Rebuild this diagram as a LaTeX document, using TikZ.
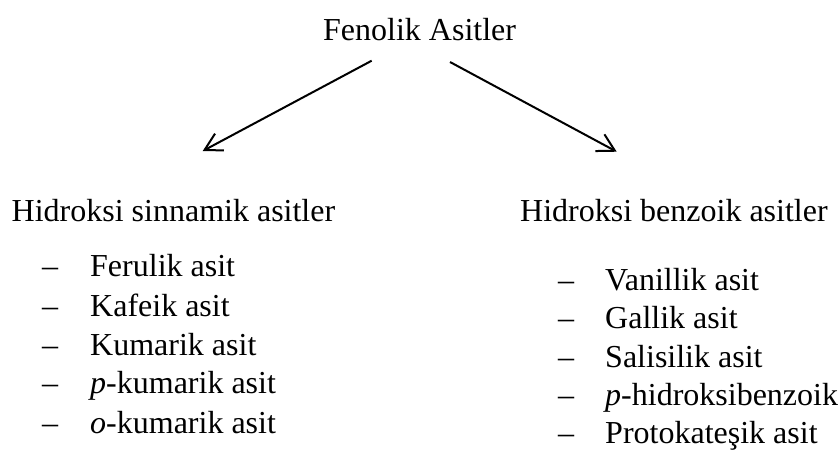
\documentclass[tikz,border=0pt]{standalone}
\usepackage{fontspec}
\setmainfont{Liberation Serif}
\usetikzlibrary{arrows.meta}
\begin{document}
\begin{tikzpicture}[x=1pt,y=-1pt,
  txt/.style={anchor=base west,inner sep=0pt,font=\fontsize{32}{36}\selectfont},
  arr/.style={line width=2pt,-{Straight Barb[length=17pt,width=19pt,line width=2pt]}}]
\useasboundingbox (0,0) rectangle (840,453);
\node[txt] (top) at (323,40) {Fenolik Asitler};
\node[txt] (hl) at (11.5,221.7) {Hidroksi sinnamik asitler};
\node[txt] (hr) at (520,221.7) {Hidroksi benzoik asitler};
% left list
\foreach \y/\t [count=\i] in {276.7/Ferulik asit,316.7/Kafeik asit,355/Kumarik asit,393/\textit{p}-kumarik asit,433/\textit{o}-kumarik asit}{
  \node[txt] (ld\i) at (42,\y) {--};
  \node[txt] (lt\i) at (90,\y) {\t};
}
% right list
\foreach \y/\t [count=\i] in {290/Vanillik asit,328/Gallik asit,367/Salisilik asit,405/\textit{p}-hidroksibenzoik,443/Protokateşik asit}{
  \node[txt] (rd\i) at (558,\y) {--};
  \node[txt] (rt\i) at (605,\y) {\t};
}
\coordinate (ls) at (371.7,60.7);
\coordinate (le) at (202.7,151);
\coordinate (rs) at (450,62);
\coordinate (re) at (616.7,151.7);
\draw[arr] (ls) -- (le);
\draw[arr] (rs) -- (re);
\end{tikzpicture}
\end{document}
